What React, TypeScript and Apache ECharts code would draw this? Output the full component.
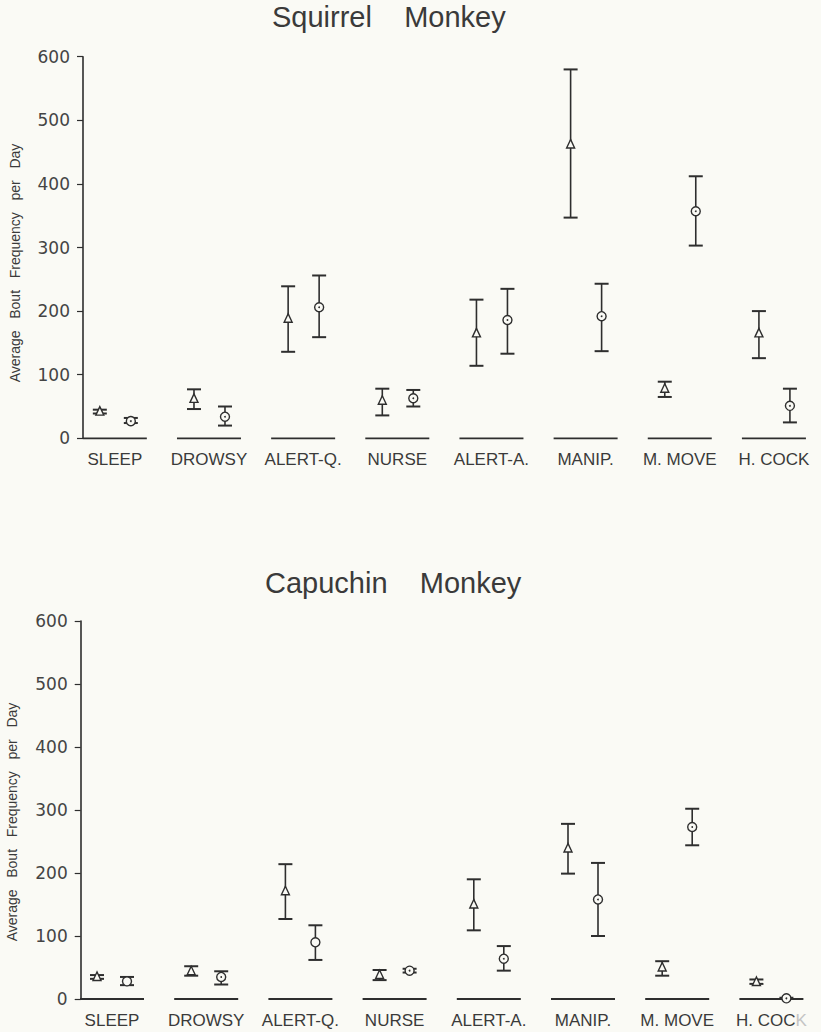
import React, { useEffect, useRef } from "react";
import * as echarts from "echarts";

const categories = ["SLEEP", "DROWSY", "ALERT-Q.", "NURSE", "ALERT-A.", "MANIP.", "M. MOVE", "H. COCK"];
const yTicks = [0, 100, 200, 300, 400, 500, 600];

// Squirrel monkey — triangle group
const sqTriMean = [42, 62, 188, 59, 165, 462, 78, 165];
const sqTriLo = [39, 46, 136, 36, 114, 347, 65, 126];
const sqTriHi = [45, 77, 239, 78, 218, 580, 89, 200];
// Squirrel monkey — circle group
const sqCirMean = [27, 34, 206, 63, 186, 192, 357, 51];
const sqCirLo = [24, 20, 159, 50, 133, 137, 303, 25];
const sqCirHi = [32, 50, 256, 76, 235, 243, 412, 78];

// Capuchin monkey — triangle group
const caTriMean = [35, 44, 171, 38, 150, 239, 50, 27];
const caTriLo = [32, 37, 127, 30, 109, 199, 37, 24];
const caTriHi = [38, 52, 214, 46, 190, 278, 60, 31];
// Capuchin monkey — circle group
const caCirMean = [28, 35, 90, 45, 64, 158, 273, 1];
const caCirLo = [22, 23, 62, 42, 45, 100, 244, 0];
const caCirHi = [35, 44, 117, 48, 84, 216, 302, 2];

const BG = "#fafaf5";
const INK = "#2e2e2e";
const TXT = "#3a3a3a";

function build(mean: number[], lo: number[], hi: number[]) {
  return mean.map((m, i) => [i, m, lo[i], hi[i]]);
}

function errSeries(data: number[][], dx: number, shape: "tri" | "cir", axis: number) {
  return {
    type: "custom",
    xAxisIndex: axis,
    yAxisIndex: axis,
    clip: false,
    data,
    renderItem: (params: any, api: any) => {
      const i = api.value(0);
      const c = api.coord([i, api.value(1)]);
      const yLo = api.coord([i, api.value(2)])[1];
      const yHi = api.coord([i, api.value(3)])[1];
      const x = c[0] + dx;
      const y = c[1];
      const ls = { stroke: INK, lineWidth: 1.6 };
      const children: any[] = [
        { type: "line", shape: { x1: x, y1: yHi, x2: x, y2: yLo }, style: ls },
        { type: "line", shape: { x1: x - 7, y1: yHi, x2: x + 7, y2: yHi }, style: { stroke: INK, lineWidth: 2 } },
        { type: "line", shape: { x1: x - 7, y1: yLo, x2: x + 7, y2: yLo }, style: { stroke: INK, lineWidth: 2 } },
      ];
      if (shape === "tri") {
        children.push({
          type: "polygon",
          shape: { points: [[x, y - 5], [x - 4, y + 3.5], [x + 4, y + 3.5]] },
          style: { fill: BG, stroke: INK, lineWidth: 1.4 },
        });
      } else {
        children.push({ type: "circle", shape: { cx: x, cy: y, r: 4.5 }, style: { fill: BG, stroke: INK, lineWidth: 1.4 } });
        children.push({ type: "circle", shape: { cx: x, cy: y, r: 0.9 }, style: { fill: INK } });
      }
      return { type: "group", children };
    },
  };
}

function baseSeries(axis: number) {
  return {
    type: "custom",
    xAxisIndex: axis,
    yAxisIndex: axis,
    clip: false,
    data: categories.map((_, i) => [i, 0]),
    renderItem: (params: any, api: any) => {
      const p = api.coord([api.value(0), 0]);
      return {
        type: "line",
        shape: { x1: p[0] - 32, y1: p[1], x2: p[0] + 32, y2: p[1] },
        style: { stroke: INK, lineWidth: 1.8 },
      };
    },
  };
}

function yAxisCfg(grid: number, offset: number) {
  return {
    type: "value",
    gridIndex: grid,
    min: yTicks[0],
    max: yTicks[yTicks.length - 1],
    interval: 100,
    offset,
    axisLine: { show: true, lineStyle: { color: INK, width: 1.6 } },
    axisTick: { show: true, length: 6, lineStyle: { color: INK, width: 1.2 } },
    axisLabel: { color: "#444", fontFamily: "DejaVu Sans", fontSize: 17, margin: 13 },
    splitLine: { show: false },
  };
}

function xAxisCfg(grid: number, faded: boolean) {
  return {
    type: "category",
    gridIndex: grid,
    data: categories,
    boundaryGap: true,
    axisLine: { show: false },
    axisTick: { show: false },
    axisLabel: {
      interval: 0,
      margin: 13,
      color: TXT,
      fontFamily: "Liberation Sans",
      fontSize: 17,
      formatter: faded
        ? (v: string) => (v === "H. COCK" ? "{a|H. COC}{k|K}" : v)
        : (v: string) => v,
      rich: {
        a: { color: TXT, fontFamily: "Liberation Sans", fontSize: 17 },
        k: { color: "#c4c4c4", fontFamily: "Liberation Sans", fontSize: 17 },
      },
    },
    splitLine: { show: false },
  };
}

const yName = "Average   Bout   Frequency   per   Day";

export default function App() {
  const ref = useRef<HTMLDivElement>(null);
  useEffect(() => {
    if (!ref.current) return;
    const chart = echarts.init(ref.current, null, { renderer: "svg" });
    chart.setOption({
      animation: false,
      backgroundColor: BG,
      title: [
        {
          text: "Squirrel    Monkey",
          left: 272,
          top: 2,
          padding: 0,
          textStyle: { fontFamily: "Liberation Sans", fontSize: 29, fontWeight: "normal", color: TXT },
        },
        {
          text: "Capuchin    Monkey",
          left: 265,
          top: 568,
          padding: 0,
          textStyle: { fontFamily: "Liberation Sans", fontSize: 29, fontWeight: "normal", color: TXT },
        },
      ],
      grid: [
        { left: 67.75, top: 56.7, width: 756, height: 381.6 },
        { left: 64.9, top: 621, width: 753.6, height: 378 },
      ],
      xAxis: [xAxisCfg(0, false), xAxisCfg(1, true)],
      yAxis: [yAxisCfg(0, -15.25), yAxisCfg(1, -15.8)],
      graphic: [
        {
          type: "text",
          x: 15,
          y: 263,
          rotation: Math.PI / 2,
          style: { text: yName, align: "center", verticalAlign: "middle", font: "14px 'Liberation Sans'", fill: TXT },
        },
        {
          type: "text",
          x: 12,
          y: 822,
          rotation: Math.PI / 2,
          style: { text: yName, align: "center", verticalAlign: "middle", font: "14px 'Liberation Sans'", fill: TXT },
        },
      ],
      series: [
        baseSeries(0),
        baseSeries(1),
        errSeries(build(sqTriMean, sqTriLo, sqTriHi), -15, "tri", 0),
        errSeries(build(sqCirMean, sqCirLo, sqCirHi), 16, "cir", 0),
        errSeries(build(caTriMean, caTriLo, caTriHi), -15, "tri", 1),
        errSeries(build(caCirMean, caCirLo, caCirHi), 15, "cir", 1),
      ],
    });
    return () => chart.dispose();
  }, []);
  return (
    <div
      ref={ref}
      style={{ position: "absolute", left: 0, top: 0, width: 821, height: 1032, background: BG }}
    />
  );
}
